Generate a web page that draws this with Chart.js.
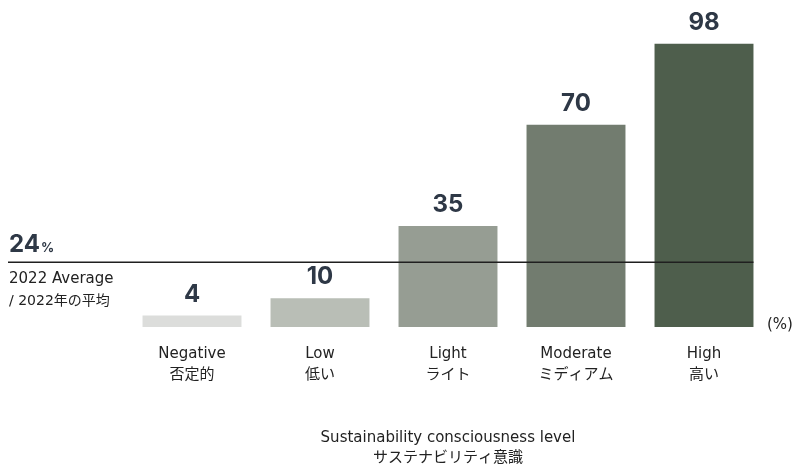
<!DOCTYPE html>
<html>
<head>
<meta charset="utf-8">
<script src="https://cdn.jsdelivr.net/npm/chart.js@4"></script>
<style>
    html, body { margin: 0; padding: 0; background: #fff; }
    #wrap { width: 793px; height: 466px; }
</style>
</head>
<body>
<div id="wrap"><canvas id="chart" width="793" height="466"></canvas></div>
<script>
// DATA
const labelsEn = ["Negative", "Low", "Light", "Moderate", "High"];
const labelsJa = ["否定的", "低い", "ライト", "ミディアム", "高い"];
const values = [4, 10, 35, 70, 98];
const barColors = ["#dcdddb", "#b9beb6", "#969d93", "#727c6f", "#4e5e4c"];

const averageText = "24";
const averageLevel = 22.4; // where the line sits on the value scale
const averageLines = ["2022 Average", "/ 2022年の平均"];
const axisTitle = ["Sustainability consciousness level", "サステナビリティ意識"];
const unitText = "(%)";

const TEXT_FONT = "'DejaVu Sans', 'Noto Sans CJK JP', sans-serif";
const NUM_FONT = "Inter, 'Noto Sans', sans-serif";

// PLUGIN: value labels, average line and side texts
const extras = {
    id: "extras",
    afterDatasetsDraw(chart) {
        const ctx = chart.ctx;
        const y = chart.scales.y;
        const area = chart.chartArea;
        const meta = chart.getDatasetMeta(0);

        ctx.save();

        // value labels
        ctx.fillStyle = "#2e3846";
        ctx.font = "bold 24px " + NUM_FONT;
        ctx.textAlign = "center";
        ctx.textBaseline = "alphabetic";
        meta.data.forEach((bar, i) => {
            ctx.fillText(String(values[i]), bar.x, bar.y - 14);
        });

        // average line
        const last = meta.data[meta.data.length - 1];
        const ly = y.getPixelForValue(averageLevel);
        ctx.strokeStyle = "#1f1f1f";
        ctx.lineWidth = 1.5;
        ctx.beginPath();
        ctx.moveTo(8, ly);
        ctx.lineTo(last.x + last.width / 2, ly);
        ctx.stroke();

        // 24%
        ctx.textAlign = "left";
        ctx.fillStyle = "#2e3846";
        ctx.font = "bold 24px " + NUM_FONT;
        ctx.fillText(averageText, 9, ly - 10);
        const w = ctx.measureText(averageText).width;
        ctx.font = "bold 13px " + NUM_FONT;
        ctx.fillText("%", 9 + w + 1, ly - 10);

        // caption under the line
        ctx.fillStyle = "#222";
        ctx.font = "15px " + TEXT_FONT;
        ctx.fillText(averageLines[0], 9, ly + 21);
        ctx.font = "14px " + TEXT_FONT;
        ctx.fillText(averageLines[1], 9, ly + 43);

        // unit
        ctx.font = "15px " + TEXT_FONT;
        ctx.fillText(unitText, 767, area.bottom + 2);

        ctx.restore();
    }
};

new Chart(document.getElementById("chart"), {
    type: "bar",
    data: {
        labels: labelsEn.map((en, i) => [en, labelsJa[i]]),
        datasets: [{
            data: values,
            backgroundColor: barColors,
            barPercentage: 0.773,
            categoryPercentage: 1
        }]
    },
    options: {
        responsive: false,
        animation: false,
        layout: {
            padding: { left: 128, right: 25, top: 9, bottom: 0 }
        },
        plugins: {
            legend: { display: false },
            tooltip: { enabled: false }
        },
        scales: {
            x: {
                grid: { display: false, drawTicks: false },
                border: { display: false },
                ticks: {
                    color: "#222",
                    font: { family: TEXT_FONT, size: 15, lineHeight: 1.4 },
                    padding: 17,
                    maxRotation: 0
                },
                title: {
                    display: true,
                    text: axisTitle,
                    color: "#222",
                    font: { family: TEXT_FONT, size: 15, lineHeight: 1.33 },
                    padding: { top: 25, bottom: -2 }
                }
            },
            y: {
                display: false,
                min: 0,
                max: 110
            }
        }
    },
    plugins: [extras]
});
</script>
</body>
</html>
